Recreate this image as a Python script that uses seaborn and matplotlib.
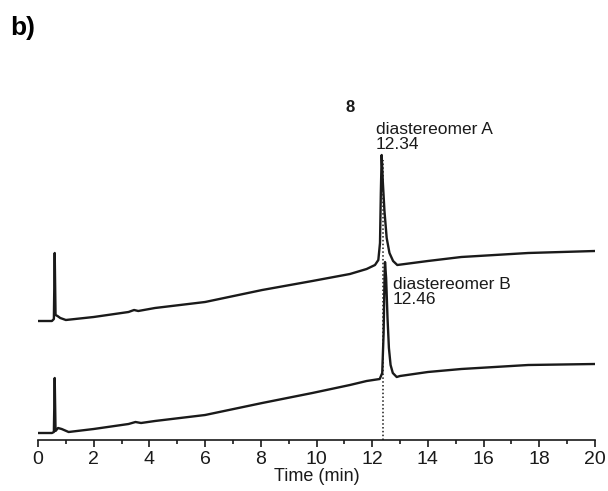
import matplotlib
matplotlib.use("Agg")
import matplotlib.pyplot as plt
import seaborn as sns
import pandas as pd
import numpy as np

# Trace A (upper, diastereomer A) - time (min) and signal (a.u.)
time_a = [0.0, 0.50, 0.57, 0.60, 0.63, 0.70, 0.80, 1.0, 2.0, 3.25, 3.45, 3.6, 3.8, 4.2,
          6.0, 8.05, 9.85, 11.2, 11.8, 12.10, 12.22, 12.28, 12.31, 12.34, 12.38, 12.44,
          12.52, 12.62, 12.75, 12.9, 14.0, 15.2, 17.6, 20.0]
signal_a = [122, 122, 124, 190, 128, 127, 125, 123, 126, 131, 133, 132, 133, 135,
            141, 153, 162, 169, 174, 178, 183, 200, 250, 288, 262, 232,
            205, 190, 182, 178, 182, 186, 190, 192]

# Trace B (lower, diastereomer B)
time_b = [0.0, 0.50, 0.57, 0.60, 0.63, 0.72, 0.85, 1.1, 2.0, 3.25, 3.5, 3.7, 4.2,
          6.0, 8.05, 9.85, 11.2, 11.8, 12.27, 12.36, 12.41, 12.44, 12.46, 12.50, 12.55,
          12.60, 12.66, 12.74, 12.88, 13.0, 14.0, 15.2, 17.6, 20.0]
signal_b = [10, 10, 11, 65, 12, 15, 14, 11, 14, 19, 21, 20, 22,
            28, 40, 50, 58, 62, 64, 70, 110, 160, 181, 165, 125,
            95, 78, 70, 66, 67, 71, 74, 78, 79]

xticks = [0, 2, 4, 6, 8, 10, 12, 14, 16, 18, 20]
marker_time = 12.40
labels = ["diastereomer A\n12.34", "diastereomer B\n12.46"]

sns.set_style("white")
plt.rcParams['font.family'] = ['Liberation Sans', 'DejaVu Sans']

df = pd.concat([
    pd.DataFrame({"time": time_a, "signal": signal_a, "trace": "A"}),
    pd.DataFrame({"time": time_b, "signal": signal_b, "trace": "B"}),
])

ink = "#1a1a1a"
fig = plt.figure(figsize=(6.08, 4.91), dpi=100)
ax = fig.add_axes([38/608, 51/491, 557/608, 340/491])

sns.lineplot(data=df, x="time", y="signal", units="trace", estimator=None,
             color=ink, lw=1.7, ax=ax, sort=False)

ax.vlines(marker_time, 3, 283, colors=ink, linestyles=(0, (1, 1.5)), lw=1.1)

ax.set_xlim(0, 20)
ax.set_ylim(3, 343)
ax.set_xticks(xticks)
ax.set_xticks(range(0, 21), minor=True)
ax.set_yticks([])
for s in ["top", "right", "left"]:
    ax.spines[s].set_visible(False)
ax.spines["bottom"].set_color(ink)
ax.spines["bottom"].set_linewidth(1.2)
ax.tick_params(axis="x", which="major", direction="out", length=5, width=1.2,
               color=ink, labelcolor=ink, labelsize=14, pad=3, bottom=True)
ax.tick_params(axis="x", which="minor", direction="out", length=3, width=1.2,
               color=ink, bottom=True)
ax.set_xlabel("Time (min)", fontsize=13, labelpad=0, color=ink)
ax.set_ylabel("")

ax.text(11.2, 336, "8", fontsize=12, fontweight="bold", ha="center", va="center", color=ink)
ax.text(12.14, 306, labels[0], fontsize=12.5, ha="left", va="center", linespacing=1.05, color=ink)
ax.text(12.75, 151, labels[1], fontsize=12.5, ha="left", va="center", linespacing=1.05, color=ink)

fig.text(10/608, 1 - 28/491, "b)", fontsize=19, fontweight="bold", ha="left", va="center", color="black")

fig.savefig("out.png", dpi=100)
